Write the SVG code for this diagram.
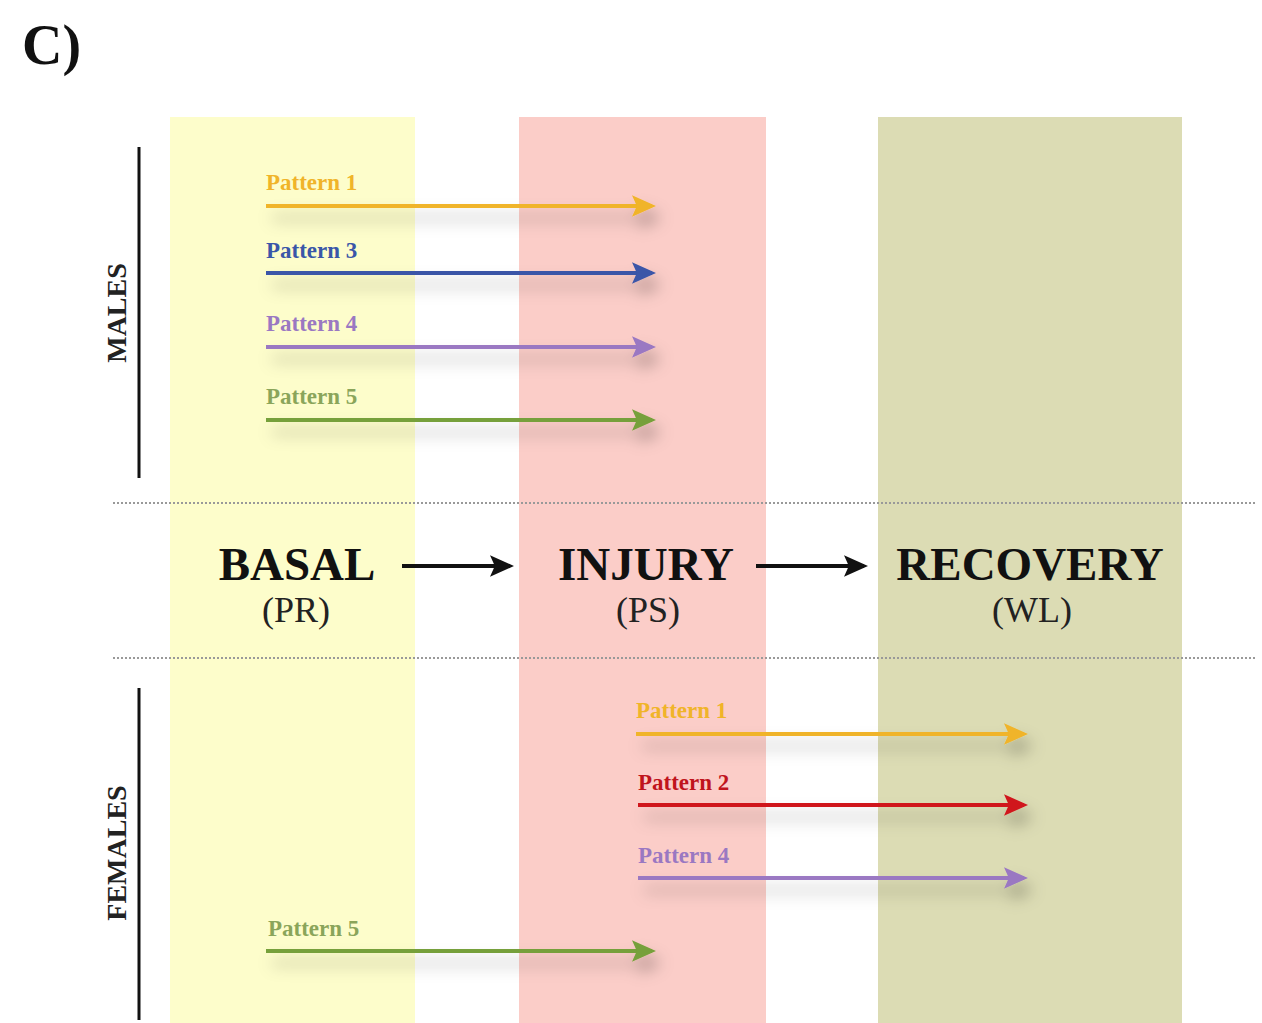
<svg xmlns="http://www.w3.org/2000/svg" width="1262" height="1023" viewBox="0 0 1262 1023">
<style>
.lbl{font-family:"Liberation Serif",serif;font-weight:bold;font-size:23px}
.stage{font-family:"Liberation Serif",serif;font-weight:bold;font-size:47px;fill:#111;text-anchor:middle}
.abbr{font-family:"Liberation Serif",serif;font-size:36px;fill:#222;text-anchor:middle}
.sex{font-family:"Liberation Serif",serif;font-weight:bold;font-size:28px;fill:#222;text-anchor:middle}
.dot{stroke:#999;stroke-width:2;stroke-dasharray:2 2}
.arr{stroke-width:4;fill:none}
</style>
<defs>
<filter id="sh" x="-10%" y="-200%" width="120%" height="600%">
<feDropShadow dx="6" dy="12" stdDeviation="8" flood-color="#000" flood-opacity="0.3"/>
</filter>
<marker id="mY" markerWidth="6" markerHeight="6" refX="5" refY="3" orient="auto" markerUnits="strokeWidth"><path d="M0,0.3 L6,3 L0,5.7 L1.2,3 Z" fill="#f0b429"/></marker>
<marker id="mB" markerWidth="6" markerHeight="6" refX="5" refY="3" orient="auto" markerUnits="strokeWidth"><path d="M0,0.3 L6,3 L0,5.7 L1.2,3 Z" fill="#3a56a8"/></marker>
<marker id="mP" markerWidth="6" markerHeight="6" refX="5" refY="3" orient="auto" markerUnits="strokeWidth"><path d="M0,0.3 L6,3 L0,5.7 L1.2,3 Z" fill="#9a78c2"/></marker>
<marker id="mG" markerWidth="6" markerHeight="6" refX="5" refY="3" orient="auto" markerUnits="strokeWidth"><path d="M0,0.3 L6,3 L0,5.7 L1.2,3 Z" fill="#76a03a"/></marker>
<marker id="mR" markerWidth="6" markerHeight="6" refX="5" refY="3" orient="auto" markerUnits="strokeWidth"><path d="M0,0.3 L6,3 L0,5.7 L1.2,3 Z" fill="#d0141c"/></marker>
<marker id="mK" markerWidth="6" markerHeight="6" refX="5" refY="3" orient="auto" markerUnits="strokeWidth"><path d="M0,0.3 L6,3 L0,5.7 L1.2,3 Z" fill="#111"/></marker>
</defs>
<rect width="1262" height="1023" fill="#fff"/>
<g id="bands">
<rect id="basal-band" x="170" y="117" width="245" height="906" fill="#fdfdcb"/>
<rect id="injury-band" x="519" y="117" width="247" height="906" fill="#fbcdc8"/>
<rect id="recovery-band" x="878" y="117" width="304" height="906" fill="#dcdcb4"/>
</g>
<text x="22" y="64" font-family="Liberation Serif,serif" font-weight="bold" font-size="56" fill="#111">C)</text>
<g id="males">
<line x1="139" y1="147" x2="139" y2="478" stroke="#111" stroke-width="3"/>
<text class="sex" transform="translate(126,313) rotate(-90)">MALES</text>
</g>
<g id="females">
<line x1="139" y1="688" x2="139" y2="1020" stroke="#111" stroke-width="3"/>
<text class="sex" transform="translate(126,853) rotate(-90)">FEMALES</text>
</g>
<g id="separators">
<line class="dot" x1="113" y1="503" x2="1255" y2="503"/>
<line class="dot" x1="113" y1="658" x2="1255" y2="658"/>
</g>
<g id="basal"><text class="stage" x="297" y="580">BASAL</text><text class="abbr" x="296" y="622">(PR)</text></g>
<g id="injury"><text class="stage" x="646" y="580">INJURY</text><text class="abbr" x="648" y="622">(PS)</text></g>
<g id="recovery"><text class="stage" x="1030" y="580">RECOVERY</text><text class="abbr" x="1032" y="622">(WL)</text></g>
<g id="connectors">
<line x1="402" y1="566" x2="510" y2="566" stroke="#111" stroke-width="4" marker-end="url(#mK)"/>
<line x1="756" y1="566" x2="864" y2="566" stroke="#111" stroke-width="4" marker-end="url(#mK)"/>
<g filter="url(#sh)">
<line class="arr" x1="266" y1="206" x2="652" y2="206" stroke="#f0b429" marker-end="url(#mY)"/>
<line class="arr" x1="266" y1="273" x2="652" y2="273" stroke="#3a56a8" marker-end="url(#mB)"/>
<line class="arr" x1="266" y1="347" x2="652" y2="347" stroke="#9a78c2" marker-end="url(#mP)"/>
<line class="arr" x1="266" y1="420" x2="652" y2="420" stroke="#76a03a" marker-end="url(#mG)"/>
<line class="arr" x1="636" y1="734" x2="1024" y2="734" stroke="#f0b429" marker-end="url(#mY)"/>
<line class="arr" x1="638" y1="805" x2="1024" y2="805" stroke="#d0141c" marker-end="url(#mR)"/>
<line class="arr" x1="638" y1="878" x2="1024" y2="878" stroke="#9a78c2" marker-end="url(#mP)"/>
<line class="arr" x1="266" y1="951" x2="652" y2="951" stroke="#76a03a" marker-end="url(#mG)"/>
</g>
</g>
<g id="labels">
<text class="lbl" x="266" y="190" fill="#f0b429">Pattern 1</text>
<text class="lbl" x="266" y="258" fill="#3a56a8">Pattern 3</text>
<text class="lbl" x="266" y="331" fill="#9a78c2">Pattern 4</text>
<text class="lbl" x="266" y="404" fill="#8aa55a">Pattern 5</text>
<text class="lbl" x="636" y="718" fill="#f0b429">Pattern 1</text>
<text class="lbl" x="638" y="790" fill="#c0141c">Pattern 2</text>
<text class="lbl" x="638" y="863" fill="#9a78c2">Pattern 4</text>
<text class="lbl" x="268" y="936" fill="#8aa55a">Pattern 5</text>
</g>
</svg>
